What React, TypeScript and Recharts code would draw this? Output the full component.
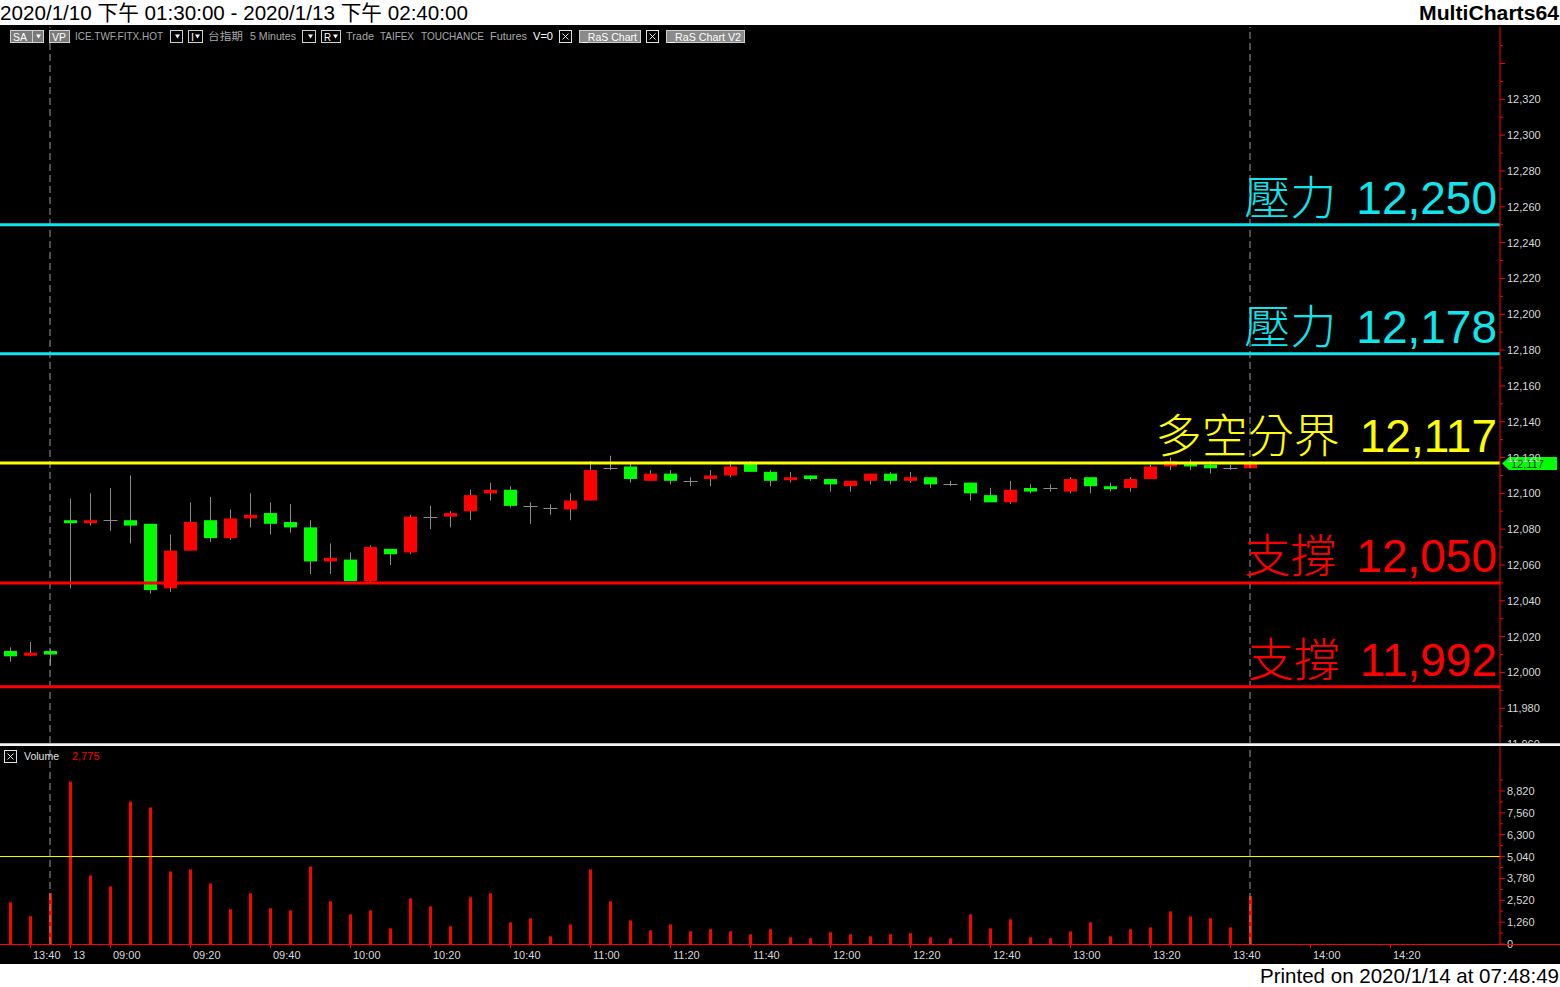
import React from 'react';
import { ComposedChart, BarChart, Bar, XAxis, YAxis, ReferenceLine } from 'recharts';

// ---------- data ----------
const times = [
  '1/10 13:35', '1/10 13:40', '1/10 13:45',
  '1/13 08:50', '1/13 08:55',
  '1/13 09:00', '1/13 09:05', '1/13 09:10', '1/13 09:15', '1/13 09:20', '1/13 09:25',
  '1/13 09:30', '1/13 09:35', '1/13 09:40', '1/13 09:45', '1/13 09:50', '1/13 09:55',
  '1/13 10:00', '1/13 10:05', '1/13 10:10', '1/13 10:15', '1/13 10:20', '1/13 10:25',
  '1/13 10:30', '1/13 10:35', '1/13 10:40', '1/13 10:45', '1/13 10:50', '1/13 10:55',
  '1/13 11:00', '1/13 11:05', '1/13 11:10', '1/13 11:15', '1/13 11:20', '1/13 11:25',
  '1/13 11:30', '1/13 11:35', '1/13 11:40', '1/13 11:45', '1/13 11:50', '1/13 11:55',
  '1/13 12:00', '1/13 12:05', '1/13 12:10', '1/13 12:15', '1/13 12:20', '1/13 12:25',
  '1/13 12:30', '1/13 12:35', '1/13 12:40', '1/13 12:45', '1/13 12:50', '1/13 12:55',
  '1/13 13:00', '1/13 13:05', '1/13 13:10', '1/13 13:15', '1/13 13:20', '1/13 13:25',
  '1/13 13:30', '1/13 13:35', '1/13 13:40', '1/13 13:45',
  '1/13 13:50', '1/13 13:55', '1/13 14:00', '1/13 14:05', '1/13 14:10', '1/13 14:15',
  '1/13 14:20', '1/13 14:25', '1/13 14:30', '1/13 14:35', '1/13 14:40', '1/13 14:45',
];

const opens = [
  12012, 12010, 12012, 12085, 12084, 12085, 12085, 12083, 12047, 12068,
  12085, 12075, 12086, 12089, 12084, 12081, 12062, 12063, 12051, 12069,
  12067, 12087, 12087, 12090, 12100, 12102, 12093, 12092, 12091, 12096,
  12114, 12115, 12107, 12111, 12107, 12108, 12110, 12117, 12112, 12108,
  12110, 12108, 12104, 12107, 12111, 12107, 12109, 12105, 12106, 12099,
  12095, 12103, 12103, 12101, 12109, 12104, 12103, 12108, 12115, 12117,
  12116, 12114, 12114,
];
const highs = [
  12014, 12017, 12013, 12097, 12100, 12103, 12110, 12083, 12077, 12095,
  12098, 12091, 12100, 12095, 12094, 12085, 12072, 12067, 12071, 12069,
  12088, 12093, 12090, 12102, 12106, 12104, 12095, 12094, 12100, 12118,
  12121, 12117, 12113, 12113, 12109, 12113, 12118, 12118, 12113, 12112,
  12110, 12108, 12107, 12111, 12112, 12112, 12109, 12107, 12106, 12103,
  12107, 12105, 12105, 12109, 12109, 12106, 12109, 12116, 12120, 12119,
  12118, 12116, 12117,
];
const lows = [
  12006, 12009, 12004, 12047, 12082, 12079, 12072, 12044, 12045, 12068,
  12073, 12074, 12081, 12077, 12078, 12055, 12055, 12051, 12050, 12060,
  12066, 12080, 12081, 12085, 12096, 12092, 12083, 12088, 12085, 12096,
  12113, 12106, 12107, 12105, 12104, 12104, 12109, 12112, 12104, 12106,
  12107, 12101, 12101, 12105, 12105, 12106, 12103, 12104, 12096, 12095,
  12094, 12100, 12101, 12100, 12100, 12101, 12101, 12108, 12113, 12113,
  12111, 12113, 12114,
];
const closes = [
  12009, 12011, 12010, 12084, 12085, 12085, 12082, 12046, 12068, 12084,
  12075, 12086, 12088, 12083, 12081, 12062, 12064, 12051, 12070, 12066,
  12087, 12087, 12089, 12099, 12102, 12093, 12093, 12092, 12096, 12113,
  12114, 12108, 12111, 12107, 12107, 12110, 12115, 12112, 12107, 12109,
  12108, 12105, 12107, 12111, 12107, 12109, 12105, 12105, 12100, 12095,
  12102, 12101, 12103, 12108, 12104, 12103, 12108, 12115, 12118, 12115,
  12114, 12114, 12117,
];
const volumes = [
  2400, 1600, 2920, 9360, 3950, 3320, 8210, 7870, 4180, 4300,
  3490, 2000, 2920, 2060, 1940, 4470, 2460, 1710, 1940, 900,
  2630, 2170, 1020, 2690, 2920, 1250, 1480, 440, 1130, 4300,
  2460, 1360, 790, 1130, 730, 850, 730, 560, 850, 385,
  330, 675, 560, 440, 560, 620, 385, 330, 1710, 900,
  1420, 385, 330, 730, 1250, 440, 850, 960, 1880, 1590,
  1480, 960, 2775,
];

const levelNames = ['壓力', '壓力', '多空分界', '支撐', '支撐'];
const levelValues = [12250, 12178, 12117, 12050, 11992];
const levelColors = ['#10e4ec', '#10e4ec', '#ffff00', '#ff0000', '#ff0000'];

const priceTicks = [
  11960, 11970, 11980, 11990, 12000, 12010, 12020, 12030, 12040, 12050,
  12060, 12070, 12080, 12090, 12100, 12110, 12120, 12130, 12140, 12150,
  12160, 12170, 12180, 12190, 12200, 12210, 12220, 12230, 12240, 12250,
  12260, 12270, 12280, 12290, 12300, 12310, 12320, 12330, 12340, 12350,
];
const priceLabelMax = 12320;
const volumeTicks = [0, 630, 1260, 1890, 2520, 3150, 3780, 4410, 5040, 5670, 6300, 6930, 7560, 8190, 8820, 9450];
const volumeLabelStep = 1260;
const volumeAvg = 5040;

const data = times.map((t, i) => ({
  time: t,
  open: opens[i],
  high: highs[i],
  low: lows[i],
  close: closes[i],
  volume: volumes[i],
}));

const lastIdx = closes.length - 1;
const lastClose = closes[lastIdx];
const lastVolume = volumes[lastIdx];
const sessionEnds = [times[2], times[lastIdx]];

// ---------- helpers ----------
const fmt = (v: number) => v.toLocaleString('en-US');
const AXIS_FONT = "'Liberation Sans', Arial, sans-serif";
const PLOT_W = 1500;

const tickLabel = (i: number) => {
  if (i < 0 || i >= times.length) return null;
  const [d, t] = times[i].split(' ');
  const prevD = i > 0 ? times[i - 1].split(' ')[0] : d;
  if (d !== prevD) return d.split('/')[1];
  const m = t.split(':')[1];
  if (m === '00' || m === '20' || m === '40') return t;
  return null;
};

const Candle = (props: any) => {
  const { x, y, width, height, payload } = props;
  if (!payload || payload.high == null || !isFinite(y)) return null;
  const { open, close, high, low } = payload;
  const k = high > low ? Math.abs(height) / (high - low) : 0;
  const py = (p: number) => y + (high - p) * k;
  const cx = Math.floor(x + width / 2) + 0.5;
  const wick = '#8a8a8a';
  let body;
  if (open === close) {
    const yy = Math.round(py(open)) + 0.5;
    body = <line x1={cx - 7} x2={cx + 7} y1={yy} y2={yy} stroke={wick} strokeWidth={1} />;
  } else {
    const top = py(Math.max(open, close));
    const bot = py(Math.min(open, close));
    const h = Math.max(bot - top, 3);
    body = (
      <rect x={cx - 6.5} y={top} width={13} height={h} fill={close > open ? '#ff0000' : '#00ff00'} />
    );
  }
  return (
    <g>
      <line x1={cx} x2={cx} y1={py(high)} y2={py(low)} stroke={wick} strokeWidth={1} />
      {body}
    </g>
  );
};

const VolBar = (props: any) => {
  const { x, y, width, height } = props;
  if (!height || height <= 0 || !isFinite(y)) return null;
  return <rect x={Math.round(x + width / 2 - 1.5)} y={y} width={3} height={height} fill="#ff0000" />;
};

const PriceTick = (props: any) => {
  const { x, y, payload } = props;
  const v = payload.value as number;
  const major = v % 20 === 0;
  return (
    <g>
      <line x1={x} x2={x + (major ? 5 : 3)} y1={y} y2={y} stroke="#ff0000" strokeWidth={1} />
      {major && v <= priceLabelMax ? (
        <text x={x + 7} y={y + 4} fontSize={11} fill="#d8d8d8" fontFamily={AXIS_FONT}>
          {fmt(v)}
        </text>
      ) : null}
    </g>
  );
};

const VolTick = (props: any) => {
  const { x, y, payload } = props;
  const v = payload.value as number;
  const major = v % volumeLabelStep === 0;
  return (
    <g>
      <line x1={x} x2={x + (major ? 5 : 3)} y1={y} y2={y} stroke="#ff0000" strokeWidth={1} />
      {major ? (
        <text x={x + 7} y={y + 4} fontSize={11} fill="#d8d8d8" fontFamily={AXIS_FONT}>
          {fmt(v)}
        </text>
      ) : null}
    </g>
  );
};

const TimeTick = (props: any) => {
  const { x, y, payload, index } = props;
  const i = typeof index === 'number' ? index : times.indexOf(payload.value);
  const lab = tickLabel(i);
  if (!lab || x + 32 > PLOT_W) return null;
  const xx = Math.floor(x) + 0.5;
  return (
    <g>
      <line x1={xx} x2={xx} y1={y} y2={y + 4} stroke="#ff0000" strokeWidth={1} />
      <text x={x + 3} y={y + 15} fontSize={11} fill="#d8d8d8" fontFamily={AXIS_FONT}>
        {lab}
      </text>
    </g>
  );
};

const levelLabel = (name: string, value: number, color: string) => (props: any) => {
  const vb = props.viewBox || {};
  const xr = (vb.x || 0) + (vb.width || 0) - 3;
  return (
    <text x={xr} y={(vb.y || 0) - 11} textAnchor="end" fill={color} fontSize={46}>
      <tspan fontFamily="'Noto Sans CJK TC', 'Noto Sans CJK SC', sans-serif" fontWeight={300}>
        {name}
      </tspan>
      <tspan dx={20} fontFamily={AXIS_FONT}>
        {fmt(value)}
      </tspan>
    </text>
  );
};

const priceMarker = (props: any) => {
  const vb = props.viewBox || {};
  const x0 = (vb.x || 0) + (vb.width || 0) + 2;
  const y0 = Math.round(vb.y || 0) + 0.5;
  return (
    <g>
      <polygon
        points={`${x0},${y0} ${x0 + 7},${y0 - 6.5} ${x0 + 55},${y0 - 6.5} ${x0 + 55},${y0 + 6.5} ${x0 + 7},${y0 + 6.5}`}
        fill="#00ff00"
      />
      <text x={x0 + 9} y={y0 + 4.5} fontSize={11} fill="#002800" fontFamily={AXIS_FONT}>
        {fmt(lastClose)}
      </text>
    </g>
  );
};

// ---------- layout ----------
const W = 1560;
const H = 987;
const PRICE_TOP = 27;
const PRICE_H = 716;
const VOL_TOP = 746;
const VOL_H = 218;
const VOL_AXIS_H = 20;
const VOL_MAX = ((VOL_H - VOL_AXIS_H) * 1260) / 21.86;
const PRICE_DOMAIN: [number, number] = [11960.6, 12360.4];

const UI_FONT = "'Liberation Sans', Arial, 'Noto Sans CJK TC', sans-serif";

const Box = ({ x, w, fill, label, tri, textLen }: any) => (
  <g>
    <rect x={x + 0.5} y={30.5} width={w} height={12} fill={fill} stroke="#d0d0d0" strokeWidth={1} />
    {label ? (
      <text x={x + 3} y={40.5} fontSize={10.5} fill="#ffffff" fontFamily={UI_FONT} textLength={textLen} lengthAdjust="spacingAndGlyphs">
        {label}
      </text>
    ) : null}
    {tri ? <polygon points={`${x + w - 7},34.5 ${x + w - 2},34.5 ${x + w - 4.5},38.5`} fill="#ffffff" /> : null}
  </g>
);

const GrayText = ({ x, len, children, fill }: any) => (
  <text x={x} y={40} fontSize={10.5} fill={fill || '#a8a8a8'} fontFamily={UI_FONT} textLength={len} lengthAdjust="spacingAndGlyphs">
    {children}
  </text>
);

const XBox = ({ x, y }: any) => (
  <g>
    <rect x={x + 0.5} y={y + 0.5} width={12} height={12} fill="#000" stroke="#e0e0e0" strokeWidth={1} />
    <line x1={x + 3.5} y1={y + 3.5} x2={x + 9.5} y2={y + 9.5} stroke="#e0e0e0" strokeWidth={1} />
    <line x1={x + 9.5} y1={y + 3.5} x2={x + 3.5} y2={y + 9.5} stroke="#e0e0e0" strokeWidth={1} />
  </g>
);

export default function App() {
  return (
    <div style={{ position: 'absolute', left: 0, top: 0, width: W, height: H, background: '#ffffff', overflow: 'hidden' }}>
      {/* black chart area */}
      <div style={{ position: 'absolute', left: 0, top: 25, width: W, height: 939, background: '#000000' }} />

      {/* price pane */}
      <div style={{ position: 'absolute', left: 0, top: PRICE_TOP, width: W, height: PRICE_H }}>
        <ComposedChart
          width={W}
          height={PRICE_H}
          data={data}
          margin={{ top: 0, right: 0, bottom: 0, left: 0 }}
          barCategoryGap={0}
          barGap={0}
        >
          <XAxis dataKey="time" hide />
          <YAxis
            orientation="right"
            width={60}
            type="number"
            domain={PRICE_DOMAIN}
            allowDataOverflow
            ticks={priceTicks}
            interval={0}
            tick={<PriceTick />}
            tickLine={false}
            tickSize={0}
            tickMargin={0}
            axisLine={{ stroke: '#ff0000', strokeWidth: 1 }}
          />
          {sessionEnds.map((t) => (
            <ReferenceLine key={t} x={t} stroke="#9a9a9a" strokeWidth={1} strokeDasharray="7 4" />
          ))}
          <Bar
            dataKey={(d: any) => (d.high == null ? null : [d.low, d.high])}
            shape={<Candle />}
            isAnimationActive={false}
          />
          {levelValues.map((v, i) => (
            <ReferenceLine
              key={'lv' + i}
              y={v}
              stroke={levelColors[i]}
              strokeWidth={3}
              label={levelLabel(levelNames[i], v, levelColors[i])}
            />
          ))}
          <ReferenceLine y={lastClose} stroke="none" strokeWidth={0} label={priceMarker} />
        </ComposedChart>
      </div>

      {/* separator */}
      <div style={{ position: 'absolute', left: 0, top: 743, width: W, height: 3, background: '#000' }} />
      <div style={{ position: 'absolute', left: 0, top: 743, width: W, height: 1, background: '#b8b8b8' }} />
      <div style={{ position: 'absolute', left: 0, top: 744, width: W, height: 2, background: '#f4f4f4' }} />

      {/* volume pane */}
      <div style={{ position: 'absolute', left: 0, top: VOL_TOP, width: W, height: VOL_H, background: '#000' }}>
        <BarChart
          width={W}
          height={VOL_H}
          data={data}
          margin={{ top: 0, right: 0, bottom: 0, left: 0 }}
          barCategoryGap={0}
          barGap={0}
        >
          <XAxis
            dataKey="time"
            interval={0}
            height={VOL_AXIS_H}
            tick={<TimeTick />}
            tickLine={false}
            tickSize={0}
            tickMargin={0}
            axisLine={false}
          />
          <YAxis
            orientation="right"
            width={60}
            type="number"
            domain={[0, VOL_MAX]}
            allowDataOverflow
            ticks={volumeTicks}
            interval={0}
            tick={<VolTick />}
            tickLine={false}
            tickSize={0}
            tickMargin={0}
            axisLine={{ stroke: '#ff0000', strokeWidth: 1 }}
          />
          <ReferenceLine y={volumeAvg} stroke="#ffff00" strokeWidth={1} />
          {sessionEnds.map((t) => (
            <ReferenceLine key={'v' + t} x={t} stroke="#9a9a9a" strokeWidth={1} strokeDasharray="7 4" />
          ))}
          <Bar dataKey="volume" barSize={3} shape={<VolBar />} isAnimationActive={false} />
        </BarChart>
      </div>
      {/* x axis red line */}
      <div style={{ position: 'absolute', left: 0, top: VOL_TOP + VOL_H - VOL_AXIS_H, width: W, height: 1, background: '#ff0000' }} />

      {/* text overlay */}
      <svg width={W} height={H} style={{ position: 'absolute', left: 0, top: 0, pointerEvents: 'none' }}>
        <text x={0} y={20} fontSize={21} fill="#000" fontFamily={UI_FONT} textLength={468} lengthAdjust="spacingAndGlyphs">
          2020/1/10 下午 01:30:00 - 2020/1/13 下午 02:40:00
        </text>
        <text x={1419} y={20} fontSize={20} fontWeight="bold" fill="#000" fontFamily={UI_FONT} textLength={140} lengthAdjust="spacingAndGlyphs">
          MultiCharts64
        </text>
        <text x={1260} y={983} fontSize={21} fill="#000" fontFamily={UI_FONT} textLength={299} lengthAdjust="spacingAndGlyphs">
          Printed on 2020/1/14 at 07:48:49
        </text>

        {/* toolbar */}
        <Box x={10} w={33} fill="#7a7a7a" label="SA" tri textLen={14} />
        <line x1={32.5} x2={32.5} y1={31} y2={42} stroke="#d0d0d0" />
        <Box x={49} w={20} fill="#7a7a7a" label="VP" textLen={14} />
        <GrayText x={75} len={88}>ICE.TWF.FITX.HOT</GrayText>
        <Box x={170} w={12} fill="#000" tri />
        <Box x={188} w={14} fill="#000" label="I" tri textLen={3} />
        <GrayText x={208} len={35}>台指期</GrayText>
        <GrayText x={250} len={46}>5 Minutes</GrayText>
        <Box x={302} w={13} fill="#000" tri />
        <Box x={321} w={19} fill="#000" label="R" tri textLen={7} />
        <GrayText x={346} len={28}>Trade</GrayText>
        <GrayText x={380} len={34}>TAIFEX</GrayText>
        <GrayText x={421} len={63}>TOUCHANCE</GrayText>
        <GrayText x={490} len={37}>Futures</GrayText>
        <GrayText x={533} len={20} fill="#ffffff">V=0</GrayText>
        <XBox x={559} y={30} />
        <Box x={579} w={61} fill="#8a8a8a" label="_RaS Chart" textLen={55} />
        <XBox x={646} y={30} />
        <Box x={666} w={78} fill="#8a8a8a" label="_RaS Chart V2" textLen={72} />

        {/* volume header */}
        <XBox x={4} y={750} />
        <text x={24} y={760} fontSize={11} fill="#e0e0e0" fontFamily={UI_FONT} textLength={35} lengthAdjust="spacingAndGlyphs">
          Volume
        </text>
        <text x={72} y={760} fontSize={11} fill="#ff0000" fontFamily={UI_FONT}>
          {fmt(lastVolume)}
        </text>
      </svg>
    </div>
  );
}
